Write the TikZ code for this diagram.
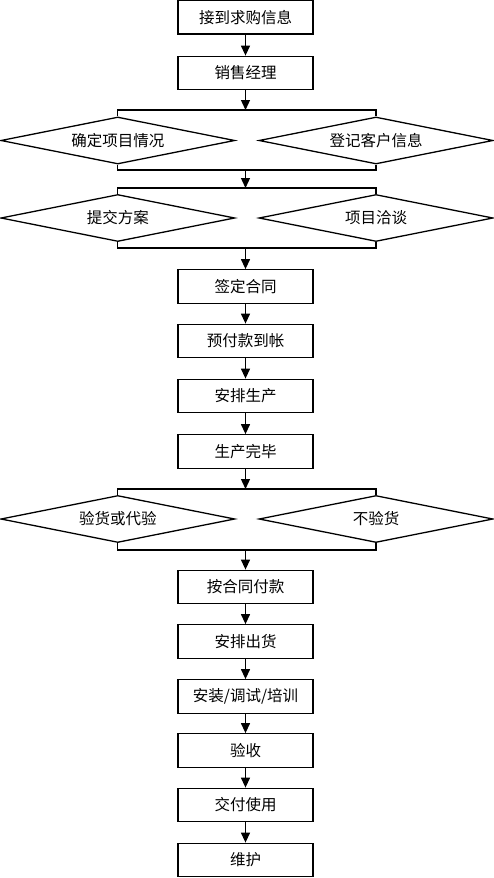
\documentclass[tikz,border=0pt]{standalone}
\usepackage{fontspec}
\setmainfont{Noto Sans CJK SC}
\usetikzlibrary{shapes.geometric,arrows.meta}
\begin{document}
\begin{tikzpicture}[x=1pt,y=-1pt,
  every node/.style={font=\fontsize{15.5}{18}\selectfont},
  box/.style={draw,line width=1.3pt,minimum width=135pt,minimum height=33.5pt,inner sep=0pt},
  dia/.style={draw,diamond,line width=1.3pt,aspect=4.9,minimum width=234pt,minimum height=47pt,inner sep=0pt},
  ln/.style={line width=1.3pt},
  arr/.style={line width=1.3pt,-{Triangle[length=10pt,width=9pt]}}]
\useasboundingbox (0,0) rectangle (493,878);
% boxes
\node[box] (b1) at (245.5,17.3) {接到求购信息};
\node[box] (b2) at (245.5,73) {销售经理};
\node[box] (b3) at (245.5,286.5) {签定合同};
\node[box] (b4) at (245.5,341) {预付款到帐};
\node[box] (b5) at (245.5,396) {安排生产};
\node[box] (b6) at (245.5,451.5) {生产完毕};
\node[box] (b7) at (245.5,587) {按合同付款};
\node[box] (b8) at (245.5,641.5) {安排出货};
\node[box] (b9) at (245.5,696.5) {安装/调试/培训};
\node[box] (b10) at (245.5,750.5) {验收};
\node[box] (b11) at (245.5,805) {交付使用};
\node[box] (b12) at (245.5,860) {维护};
% diamonds
\node[dia] (d1) at (117.8,140.5) {确定项目情况};
\node[dia] (d2) at (376,140.5) {登记客户信息};
\node[dia] (d3) at (117.8,218) {提交方案};
\node[dia] (d4) at (376,218) {项目洽谈};
\node[dia] (d5) at (117.8,519) {验货或代验};
\node[dia] (d6) at (376,519) {不验货};
% bracket coordinates
\coordinate (t1) at (245.5,110);
\coordinate (u1) at (245.5,170);
\coordinate (t2) at (245.5,188);
\coordinate (u2) at (245.5,248);
\coordinate (t3) at (245.5,489);
\coordinate (u3) at (245.5,550);
% brackets
\draw[ln] (d1.north) |- (t1) -| (d2.north);
\draw[ln] (d1.south) |- (u1) -| (d2.south);
\draw[ln] (d3.north) |- (t2) -| (d4.north);
\draw[ln] (d3.south) |- (u2) -| (d4.south);
\draw[ln] (d5.north) |- (t3) -| (d6.north);
\draw[ln] (d5.south) |- (u3) -| (d6.south);
% arrows
\draw[arr] (b1) -- (b2);
\draw[arr] (b2) -- (t1);
\draw[arr] (u1) -- (t2);
\draw[arr] (u2) -- (b3);
\draw[arr] (b3) -- (b4);
\draw[arr] (b4) -- (b5);
\draw[arr] (b5) -- (b6);
\draw[arr] (b6) -- (t3);
\draw[arr] (u3) -- (b7);
\draw[arr] (b7) -- (b8);
\draw[arr] (b8) -- (b9);
\draw[arr] (b9) -- (b10);
\draw[arr] (b10) -- (b11);
\draw[arr] (b11) -- (b12);
\end{tikzpicture}
\end{document}
